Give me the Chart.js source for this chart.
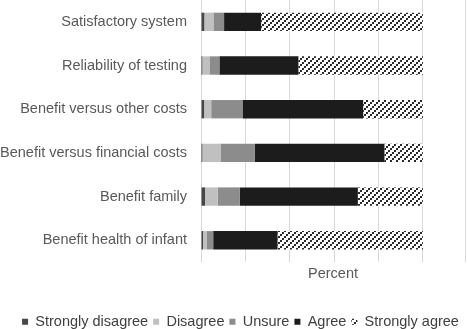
<!DOCTYPE html>
<html>
<head>
<meta charset="utf-8">
<script src="https://cdn.jsdelivr.net/npm/chart.js@4"></script>
<style>
html, body { margin: 0; padding: 0; background: #fff; }
#wrap { width: 467px; height: 329px; }
</style>
</head>
<body>
<div id="wrap"><canvas id="attitudeChart"></canvas></div>
<script>
// Attitudes towards screening, percent of respondents per statement
var _labels = ["Satisfactory system", "Reliability of testing", "Benefit versus other costs",
    "Benefit versus financial costs", "Benefit family", "Benefit health of infant"];

var stronglyDisagree = [1.5, 0.6, 1.4, 0.6, 1.8, 0.9];
var disagree = [4.1, 3.2, 3.2, 8.4, 5.7, 1.8];
var unsure = [4.8, 4.5, 14.1, 15.3, 10.0, 2.8];
var agree = [16.7, 35.6, 54.4, 58.4, 53.2, 29.0];
var stronglyAgree = [72.9, 56.1, 26.9, 17.3, 29.3, 65.5];

var _fontFamily = "'Liberation Sans', Arial, sans-serif";

// dotted diagonal hatch used for "Strongly agree"
function makeHatch() {
    var c = document.createElement('canvas');
    c.width = 6;
    c.height = 6;
    var g = c.getContext('2d');
    g.fillStyle = '#ffffff';
    g.fillRect(0, 0, 6, 6);
    g.fillStyle = '#2a2a2a';
    g.fillRect(0, 4, 2, 2);
    g.fillRect(2, 2, 2, 2);
    g.fillRect(4, 0, 2, 2);
    return g.createPattern(c, 'repeat');
}
var hatch = makeHatch();

// nudge the legend row a little to the right
var legendShift = {
    id: 'legendShift',
    afterLayout: function (chart) {
        chart.legend.left += 8;
        chart.legend.right += 8;
    }
};

var ctx = document.getElementById("attitudeChart");

var AttitudeChart = new Chart(ctx, {
    type: 'bar',
    data: {
        labels: _labels,
        datasets: [{
            label: "Strongly disagree",
            backgroundColor: "#474747",
            data: stronglyDisagree,
        }, {
            label: "Disagree",
            backgroundColor: "#c0c0c0",
            data: disagree,
        }, {
            label: "Unsure",
            backgroundColor: "#8c8c8c",
            data: unsure,
        }, {
            label: "Agree",
            backgroundColor: "#1c1c1c",
            data: agree,
        }, {
            label: "Strongly agree",
            backgroundColor: hatch,
            data: stronglyAgree,
        }],
    },
    options: {
        indexAxis: 'y',
        responsive: true,
        maintainAspectRatio: false,
        animation: false,
        layout: { padding: { top: 0, right: 2, bottom: -10, left: 0 } },
        datasets: {
            bar: { categoryPercentage: 1, barPercentage: 0.42 }
        },
        scales: {
            x: {
                stacked: true,
                min: 0,
                max: 119,
                ticks: { display: false, stepSize: 20 },
                grid: { color: "#d9d9d9", drawTicks: false },
                border: { display: false },
                title: {
                    display: true,
                    text: "Percent",
                    color: "#595959",
                    font: { family: _fontFamily, size: 14.5 },
                    padding: { top: 3, bottom: 27 }
                }
            },
            y: {
                stacked: true,
                grid: { display: false, drawTicks: false },
                border: { display: false },
                ticks: {
                    color: "#595959",
                    padding: 14,
                    font: { family: _fontFamily, size: 14.5 }
                },
                afterFit: function (scale) {
                    scale.width = 201;
                    scale.paddingTop = 0;
                    scale.paddingBottom = 0;
                }
            }
        },
        plugins: {
            tooltip: { enabled: false },
            legend: {
                position: 'bottom',
                labels: {
                    boxWidth: 6,
                    boxHeight: 6,
                    padding: 5,
                    color: "#404040",
                    font: { family: _fontFamily, size: 14.5 }
                }
            }
        }
    },
    plugins: [legendShift]
});
</script>
</body>
</html>
